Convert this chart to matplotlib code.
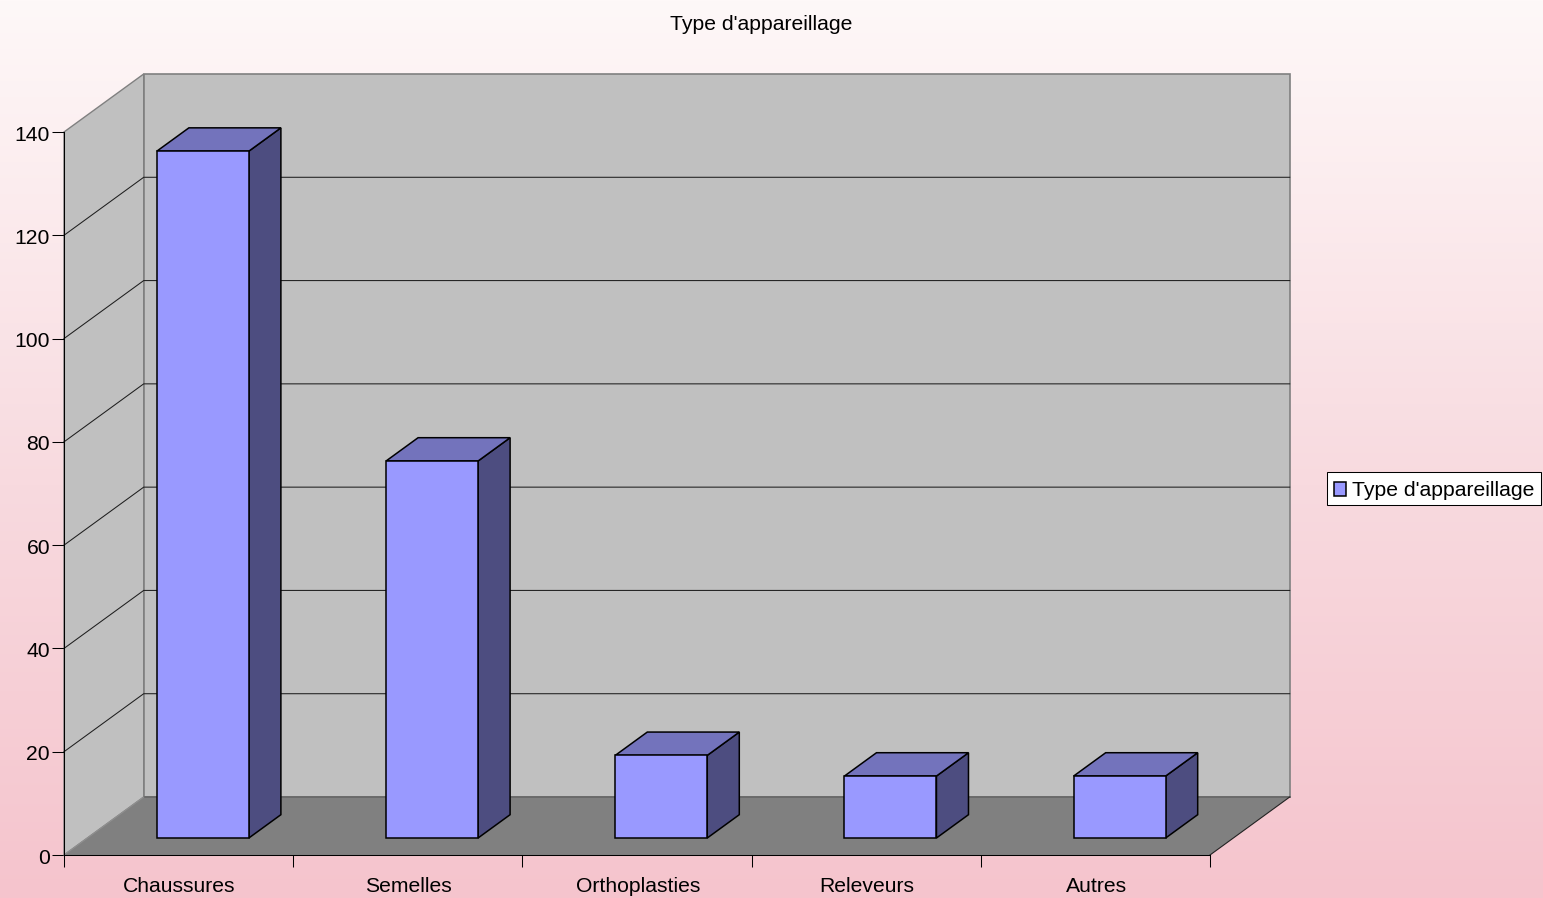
import numpy as np
import matplotlib
matplotlib.use("Agg")
import matplotlib.pyplot as plt
from matplotlib.patches import Patch, Rectangle
from matplotlib.transforms import ScaledTranslation

plt.rcParams['font.family'] = ['Liberation Sans', 'DejaVu Sans']

title = "Type d'appareillage"
categories = ["Chaussures", "Semelles", "Orthoplasties", "Releveurs", "Autres"]
values = [133, 73, 16, 12, 12]
y_ticks = [0, 20, 40, 60, 80, 100, 120, 140]

W, H = 1543, 898
FS = 15.2
fig = plt.figure(figsize=(W / 100, H / 100), dpi=100)

# background gradient
bg = fig.add_axes([0, 0, 1, 1], zorder=0)
bg.axis('off')
rows = np.linspace(0, 1, H)
stops = [0.0, 0.54, 1.0]
top, mid, bot = (254, 248, 248), (248, 218, 223), (245, 196, 205)
grad = np.stack([np.interp(rows, stops, [top[c], mid[c], bot[c]]) for c in range(3)], axis=1)[:, None, :] / 255
bg.imshow(grad, aspect='auto', extent=[0, 1, 0, 1], origin='upper')

# main axes: the front plane of the 3D box
x0, x1, y0, y1 = 64.0, 1210.0, 855.0, 132.0
ax = fig.add_axes([x0 / W, 1 - y0 / H, (x1 - x0) / W, (y0 - y1) / H], zorder=1)
ax.patch.set_alpha(0)
n = len(categories)
ymax = y_ticks[-1]
ax.set_xlim(0, n)
ax.set_ylim(0, ymax)

px_x = (x1 - x0) / n
px_y = (y0 - y1) / ymax
DX = 79.7 / px_x
DY = 58 / px_y

WALL, FLOOR, EDGE = '#C0C0C0', '#808080', '#808080'
FRONT, TOPC, SIDE = '#9999FF', '#7373BC', '#4D4D80'
GRID = '#1E1E1E'

# walls and floor
ax.fill([0, DX, DX, 0], [0, DY, ymax + DY, ymax], fc=WALL, ec=EDGE, lw=1.0, clip_on=False, zorder=1)
ax.fill([DX, n + DX, n + DX, DX], [DY, DY, ymax + DY, ymax + DY], fc=WALL, ec=EDGE, lw=1.2, clip_on=False, zorder=1)
ax.fill([0, n, n + DX, DX], [0, 0, DY, DY], fc=FLOOR, ec='none', clip_on=False, zorder=2)
ax.plot([DX, n + DX], [DY, DY], color='#666666', lw=1.2, clip_on=False, zorder=2)
ax.plot([n, n + DX], [0, DY], color='#222222', lw=0.8, clip_on=False, zorder=3)
ax.plot([0, DX], [0, DY], color='#909090', lw=0.8, clip_on=False, zorder=3)

# gridlines
for v in y_ticks[1:-1]:
    ax.plot([0, DX, n + DX], [v, v + DY, v + DY], color=GRID, lw=0.75, clip_on=False, zorder=3)

# bars
f0, f1 = 0.293, 0.695
off, bw = 69.5 / px_x, 92 / px_x
ddx, ddy = (f1 - f0) * DX, (f1 - f0) * DY
for i, v in enumerate(values):
    L = i + off + f0 * DX
    R = L + bw
    B = f0 * DY
    T = B + v
    kw = dict(ec='black', lw=1.1, clip_on=False, zorder=5, joinstyle='miter')
    ax.fill([R, R + ddx, R + ddx, R], [B, B + ddy, T + ddy, T], fc=SIDE, **kw)
    ax.fill([L, R, R + ddx, L + ddx], [T, T, T + ddy, T + ddy], fc=TOPC, **kw)
    ax.fill([L, R, R, L], [B, B, T, T], fc=FRONT, **kw)

# axes
for s in ('top', 'right'):
    ax.spines[s].set_visible(False)
for s in ('left', 'bottom'):
    ax.spines[s].set_linewidth(0.75)
    ax.spines[s].set_zorder(6)
ax.set_yticks(y_ticks)
ax.set_xticks(np.arange(n + 1))
ax.set_xticklabels([])
ax.set_xticks(np.arange(n) + 0.5, minor=True)
ax.set_xticklabels(categories, minor=True)
ax.tick_params(axis='y', which='major', length=8.6, width=0.75, pad=2.2, labelsize=FS)
ax.tick_params(axis='x', which='major', length=8.6, width=0.75)
ax.tick_params(axis='x', which='minor', length=0, pad=15.2, labelsize=FS)

# nudge tick labels by one pixel
nudge_y = ScaledTranslation(1 / 100, -1 / 100, fig.dpi_scale_trans)
for lab in ax.get_yticklabels():
    lab.set_transform(lab.get_transform() + nudge_y)
nudge_x = ScaledTranslation(1 / 100, -1 / 100, fig.dpi_scale_trans)
for lab in ax.get_xticklabels(minor=True):
    lab.set_transform(lab.get_transform() + nudge_x)

fig.text(761 / W, 1 - 25 / H, title, ha='center', va='center', fontsize=FS)

# legend: contents sit slightly below the centre of the box, as in the original
fig.add_artist(Rectangle((1326.5 / W, 1 - 504.5 / H), 214.5 / W, 32.5 / H, transform=fig.transFigure,
                         fc='white', ec='black', lw=0.75, zorder=2))
handle = Patch(fc=FRONT, ec='black', lw=1.1)
leg = ax.legend([handle], [title], loc='center left',
                bbox_to_anchor=(1333.5 / W, 1 - 491 / H), bbox_transform=fig.transFigure,
                fontsize=FS, frameon=False, borderpad=0, borderaxespad=0, handlelength=0.6,
                handleheight=0.6, handletextpad=0.3)
leg.remove()
leg.set_figure(fig)
fig.add_artist(leg)
leg.set_zorder(3)

fig.savefig("out.png", dpi=100)
